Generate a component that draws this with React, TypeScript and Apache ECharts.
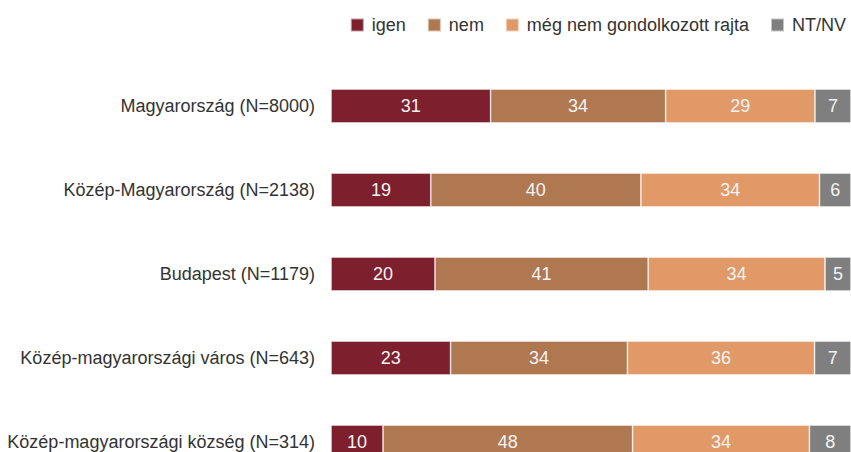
import React, { useEffect, useRef } from "react";
import * as echarts from "echarts";

const categories = [
  "Magyarország (N=8000)",
  "Közép-Magyarország (N=2138)",
  "Budapest (N=1179)",
  "Közép-magyarországi város (N=643)",
  "Közép-magyarországi község (N=314)",
];
const seriesNames = ["igen", "nem", "még nem gondolkozott rajta", "NT/NV"];
const igen = [31, 19, 20, 23, 10];
const nem = [34, 40, 41, 34, 48];
const megNem = [29, 34, 34, 36, 34];
const ntnv = [7, 6, 5, 7, 8];
const colors = ["#7D1F2D", "#B07851", "#E19968", "#7F7F7F"];

export default function App() {
  const ref = useRef<HTMLDivElement>(null);
  useEffect(() => {
    if (!ref.current) return;
    const chart = echarts.init(ref.current, undefined, { renderer: "svg" });
    const all = [igen, nem, megNem, ntnv];
    const totals = categories.map((_, i) => all.reduce((s, a) => s + a[i], 0));
    const font = "'Liberation Sans', Arial, sans-serif";
    chart.setOption({
      animation: false,
      textStyle: { fontFamily: font },
      legend: {
        top: 11,
        right: 0,
        itemWidth: 13,
        itemHeight: 13,
        itemGap: 21,
        icon: "rect",
        textStyle: { fontSize: 18, color: "#333", fontFamily: font, padding: [0, 0, 0, 3] },
        data: seriesNames,
      },
      grid: { left: 331, right: 0, top: 64, bottom: 16, containLabel: false },
      xAxis: {
        type: "value",
        min: 0,
        max: 100,
        show: false,
      },
      yAxis: {
        type: "category",
        inverse: true,
        data: categories,
        axisLine: { show: false },
        axisTick: { show: false },
        axisLabel: { fontSize: 18, color: "#333", margin: 16, fontFamily: font },
      },
      series: all.map((arr, si) => ({
        name: seriesNames[si],
        type: "bar",
        stack: "total",
        barWidth: 34,
        itemStyle: { color: colors[si], borderColor: "rgba(255,255,255,0.55)", borderWidth: 0.8 },
        label: {
          show: true,
          position: "inside",
          color: "#f4f4f4",
          fontSize: 18,
          fontFamily: font,
          formatter: (p: any) => String(arr[p.dataIndex]),
        },
        data: arr.map((v, i) => (v / totals[i]) * 100),
      })),
    });
    return () => chart.dispose();
  }, []);
  return (
    <div
      ref={ref}
      style={{ position: "fixed", left: 0, top: 0, width: 851, height: 500, background: "#fff" }}
    />
  );
}
